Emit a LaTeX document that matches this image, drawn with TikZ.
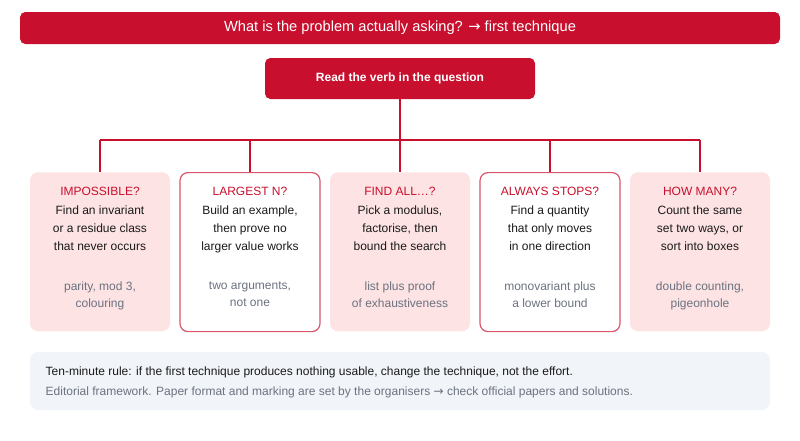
\documentclass[tikz,border=0pt]{standalone}
\usepackage{fontspec}
\setmainfont{Liberation Sans}
\newfontfamily\symfont{DejaVu Sans}
\newcommand{\rarr}{{\symfont\char"2192}}
\usetikzlibrary{positioning}
\definecolor{verbred}{HTML}{C8102E}
\definecolor{cardpink}{HTML}{FDE3E3}
\definecolor{cardline}{HTML}{D9566B}
\definecolor{inktext}{HTML}{1A1A1A}
\definecolor{softgray}{HTML}{6B7280}
\definecolor{notebg}{HTML}{F1F4F8}
\tikzset{
  bar/.style={fill=verbred, rounded corners=4pt, text=white},
  card/.style={minimum width=105pt, minimum height=119.25pt, rounded corners=6pt, anchor=north},
  pinkcard/.style={card, fill=cardpink},
  whitecard/.style={card, fill=white, draw=cardline, line width=0.9pt},
  link/.style={verbred, line width=1.4pt},
  head/.style={text=verbred, font=\fontsize{9}{11}\selectfont},
  body/.style={text=inktext, align=center, font=\fontsize{9}{13.5}\selectfont},
  hint/.style={text=softgray, align=center, font=\fontsize{9}{13}\selectfont},
}
\begin{document}
\begin{tikzpicture}[x=0.75pt, y=-0.75pt]
\useasboundingbox (0,0) rectangle (800,440);
% header
\node [bar, minimum width=570pt, minimum height=24pt, font=\fontsize{11}{13}\selectfont] (title) at (400,28) {What is the problem actually asking? \rarr\ first technique};
\node [bar, minimum width=202.5pt, minimum height=30.75pt, font=\bfseries\fontsize{9}{11}\selectfont] (verb) at (400,78.5) {Read the verb in the question};
\coordinate (split) at (400,140);
\draw [link] (verb.south) -- (split);
\draw [link] (100,140) -- (700,140);
% cards
\foreach \i/\cx/\kind/\chead/\cbody/\chint in {
  1/100/pinkcard/IMPOSSIBLE?/{Find an invariant\\or a residue class\\that never occurs}/{parity, mod 3,\\colouring},
  2/250/whitecard/LARGEST N?/{Build an example,\\then prove no\\larger value works}/{two arguments,\\not one},
  3/400/pinkcard/FIND ALL\dots?/{Pick a modulus,\\factorise, then\\bound the search}/{list plus proof\\of exhaustiveness},
  4/550/whitecard/ALWAYS STOPS?/{Find a quantity\\that only moves\\in one direction}/{monovariant plus\\a lower bound},
  5/700/pinkcard/HOW MANY?/{Count the same\\set two ways, or\\sort into boxes}/{double counting,\\pigeonhole}}
{
  \node [\kind] (card\i) at (\cx,172) {};
  \draw [link] (\cx,140) -- (card\i.north);
  \node [head] (head\i) at (\cx,191) {\chead};
  \node [body, below=1pt of head\i] (body\i) {\cbody};
  \node [hint, anchor=north] (hint\i) at (\cx,277) {\chint};
}
% footer note
\node [fill=notebg, rounded corners=6pt, minimum width=555pt, minimum height=43.5pt] (note) at (400,381) {};
\node [anchor=west, text=inktext, font=\fontsize{9}{11}\selectfont] (rule) at (41,372) {Ten-minute rule: if the first technique produces nothing usable, change the technique, not the effort.};
\node [anchor=west, text=softgray, font=\fontsize{9}{11}\selectfont] (source) at (41,392) {Editorial framework. Paper format and marking are set by the organisers \rarr\ check official papers and solutions.};
\end{tikzpicture}
\end{document}
